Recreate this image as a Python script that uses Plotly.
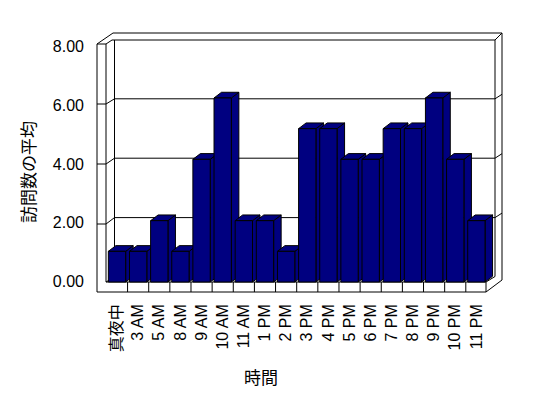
import plotly.graph_objects as go

# ---------------- data ----------------
categories = ["真夜中", "3 AM", "5 AM", "8 AM", "9 AM", "10 AM", "11 AM", "1 PM", "2 PM",
              "3 PM", "4 PM", "5 PM", "6 PM", "7 PM", "8 PM", "9 PM", "10 PM", "11 PM"]
values = [1, 1, 2, 1, 4, 6, 2, 2, 1, 5, 5, 4, 4, 5, 5, 6, 4, 2]
y_ticks = [0, 2, 4, 6, 8]
y_tick_labels = ["0.00", "2.00", "4.00", "6.00", "8.00"]
x_title = "時間"
y_title = "訪問数の平均"

# ---------------- geometry / style ----------------
BODY = 8                                   # default page margin around the plot div
FW, FH = 548 - 2 * BODY, 398 - 2 * BODY    # figure size
PL, PR, PT, PB = 90, 510, 30, 300          # plot area in page pixels


def px(x):
    return (x - PL) / (PR - PL)


def py(y):
    return (PB - y) / (PB - PT)


UNIT_X = 21.14      # px per category
X0PX = 117          # pixel centre of first category
xmin = -(X0PX - PL) / UNIT_X
xmax = xmin + (PR - PL) / UNIT_X

BAR_ZERO, BAR_UNIT = 282, 30.67
ymin = -(PB - BAR_ZERO) / BAR_UNIT
ymax = (BAR_ZERO - PT) / BAR_UNIT

LBL_ZERO, LBL_UNIT = 281.5, 29.4
y2min = -(PB - LBL_ZERO) / LBL_UNIT
y2max = (LBL_ZERO - PT) / LBL_UNIT

HALF = 0.41
DX = 7.5 / UNIT_X
DY = 5.7 / BAR_UNIT
NAVY = "#000080"
LATIN = "Liberation Sans, Arial, Noto Sans CJK JP, sans-serif"
CJK = "Noto Sans CJK JP, sans-serif"

fig = go.Figure()

# bars drawn left to right, side/top/front so later bars overlap earlier sides
for i, v in enumerate(values):
    l, r = i - HALF, i + HALF
    faces = [
        ([r, r, r + DX, r + DX, r], [0, v, v + DY, DY, 0]),
        ([l, r, r + DX, l + DX, l], [v, v, v + DY, v + DY, v]),
        ([l, r, r, l, l], [0, 0, v, v, 0]),
    ]
    for fx, fy in faces:
        fig.add_trace(go.Scatter(x=fx, y=fy, mode="lines", fill="toself",
                                 fillcolor=NAVY, line=dict(color="black", width=1),
                                 hoverinfo="skip", showlegend=False))

# helper trace for the label axis
fig.add_trace(go.Scatter(x=[0] * len(y_ticks), y=y_ticks, yaxis="y2", mode="markers",
                         marker=dict(opacity=0), hoverinfo="skip", showlegend=False))

# ---------------- 3-D box decoration ----------------
segs = [
    (97, 44, 97, 292), (106, 44, 106, 282), (97, 44, 106, 44),
    (97, 44, 113, 33), (106, 44, 112, 40), (113, 33, 502, 33),
    (112, 40, 495, 40), (502, 33, 495, 40), (114.5, 40, 114.5, 277),
    (495, 40, 495, 276.5), (502, 33, 502, 280),
    (97, 292, 486, 292), (106, 282, 486, 282), (486, 282, 486, 292),
    (486, 292, 502, 280), (486, 282, 495, 276.5), (106, 282, 114.5, 277),
]
for t in y_ticks:
    if t in (0, 8):
        continue
    yF = 284 - 30 * t
    yB = 277 - 29.7 * t
    segs += [(97, yF, 106, yF), (106, yF, 114.5, yB), (114.5, yB, 495, yB),
             (495, yB, 502, yB - 4.5)]

shapes = []
for x0, y0, x1, y1 in segs:
    shapes.append(dict(type="line", xref="paper", yref="paper",
                       x0=px(x0), y0=py(y0), x1=px(x1), y1=py(y1),
                       line=dict(color="black", width=1), layer="below"))
for i in range(len(categories) - 1):
    shapes.append(dict(type="line", xref="x", yref="paper",
                       x0=i + 0.5, x1=i + 0.5, y0=py(282), y1=py(292),
                       line=dict(color="black", width=1), layer="below"))

fig.update_layout(
    width=FW, height=FH, autosize=False,
    margin=dict(l=PL - BODY, r=FW - (PR - BODY), t=PT - BODY, b=FH - (PB - BODY), pad=0),
    plot_bgcolor="white", paper_bgcolor="white", showlegend=False,
    shapes=shapes,
    xaxis=dict(range=[xmin, xmax], tickmode="array",
               tickvals=list(range(len(categories))), ticktext=categories,
               tickangle=-90, showgrid=False, zeroline=False, showline=False,
               ticks="", tickfont=dict(family=LATIN, size=16, color="black"),
               automargin=False, fixedrange=True),
    yaxis=dict(range=[ymin, ymax], visible=False, fixedrange=True, automargin=False),
    yaxis2=dict(range=[y2min, y2max], overlaying="y", side="left",
                tickmode="array", tickvals=y_ticks, ticktext=y_tick_labels,
                showgrid=False, zeroline=False, showline=False, ticks="",
                ticklabelstandoff=5,
                tickfont=dict(family=LATIN, size=16, color="black"),
                automargin=False, fixedrange=True),
    annotations=[
        dict(text=y_title, x=px(27), y=py(172), xref="paper", yref="paper",
             textangle=-90, showarrow=False, xanchor="center", yanchor="middle",
             font=dict(family=CJK, size=17, color="black")),
        dict(text=x_title, x=px(260.5), y=py(376), xref="paper", yref="paper",
             showarrow=False, xanchor="center", yanchor="middle",
             font=dict(family=CJK, size=17, color="black")),
    ],
)

fig.write_html("out.html")
